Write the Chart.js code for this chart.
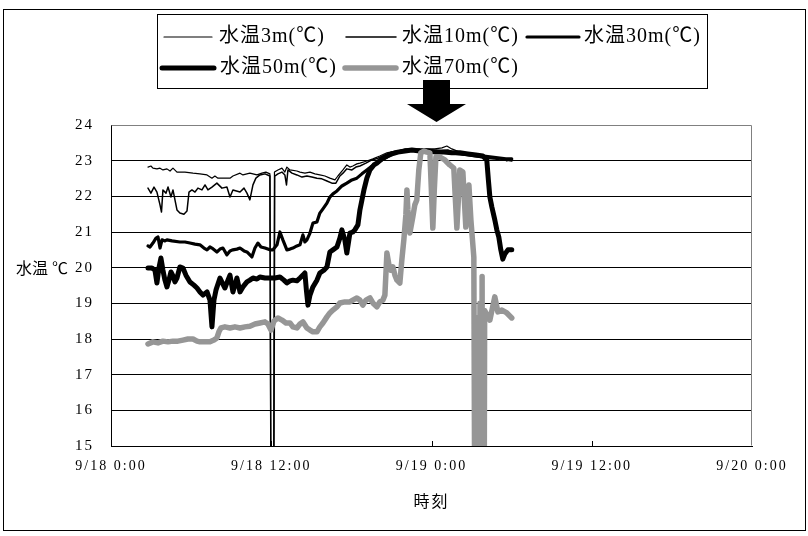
<!DOCTYPE html>
<html><head><meta charset="utf-8">
<script src="https://cdn.jsdelivr.net/npm/chart.js@4/dist/chart.umd.min.js"></script>
<style>html,body{margin:0;padding:0;background:#fff}#wrap{width:808px;height:536px;position:relative}</style>
</head><body><div id="wrap"><canvas id="c"></canvas></div>
<script>
// ---- data (x = hours since 9/18 0:00, y = water temperature ℃) ----
const seriesLabels = ['水温3m(℃)', '水温10m(℃)', '水温30m(℃)', '水温50m(℃)', '水温70m(℃)'];
const xTickLabels = ['9/18 0:00', '9/18 12:00', '9/19 0:00', '9/19 12:00', '9/20 0:00'];
const yAxisTitle = '水温 ℃';
const xAxisTitle = '時刻';

const t3m = [2.77,2.99,3.14,3.44,3.67,3.89,4.19,4.42,4.64,4.94,5.54,6.14,6.66,7.19,7.56,7.78,8.01,8.46,8.91,9.13,9.66,9.88,10.40,10.93,11.30,11.60,11.90,12.07,12.24,12.50,12.80,13.02,13.17,13.40,13.92,14.15,14.52,14.90,15.27,15.64,16.02,16.39,16.77,16.99,17.37,17.66,17.89,18.11,18.41,18.64,19.16,19.61,20.13,20.66,21.26,22.01,22.75,23.50,24.25,24.78,25.15,25.52,26.12,26.72,27.25,27.77,28.37,28.89,29.34,29.64,30.01];
const v3m = [22.82,22.85,22.79,22.77,22.79,22.74,22.77,22.71,22.79,22.68,22.68,22.65,22.63,22.60,22.51,22.57,22.51,22.51,22.51,22.57,22.65,22.60,22.65,22.60,22.65,22.68,22.63,0,22.68,22.74,22.79,22.68,22.82,22.74,22.71,22.68,22.65,22.68,22.63,22.60,22.57,22.51,22.46,22.57,22.74,22.88,22.82,22.85,22.91,22.93,22.99,23.05,23.13,23.22,23.27,23.30,23.30,23.33,23.33,23.36,23.41,23.33,23.24,23.22,23.16,23.13,23.10,23.07,23.05,22.99,23.05];

const t10m = [2.77,2.99,3.22,3.44,3.67,3.78,3.89,4.12,4.27,4.49,4.64,4.79,4.94,5.16,5.46,5.69,5.84,6.06,6.29,6.51,6.81,7.04,7.26,7.56,7.93,8.31,8.68,8.91,9.13,9.66,9.96,10.18,10.40,10.63,10.85,11.15,11.53,11.90,12.10,12.26,12.50,12.80,13.02,13.14,13.25,13.55,13.92,14.30,14.67,15.04,15.42,15.79,16.17,16.54,16.84,17.14,17.37,17.66,18.04,18.34,18.64,19.09,19.54,19.99,20.51,21.03,21.63,22.38,23.13,23.88,24.63,25.22,25.75,26.35,26.87,27.47,28.07,28.67,29.12,29.57,30.01];
const v10m = [22.23,22.09,22.26,22.12,21.76,21.56,22.18,22.09,22.26,21.98,22.18,21.90,21.62,21.53,21.50,21.59,22.12,22.18,22.12,22.23,22.18,22.32,22.18,22.26,22.37,22.23,22.26,21.98,22.18,22.12,22.23,22.09,21.90,22.32,22.51,22.60,22.63,22.57,0,22.57,22.63,22.68,22.60,22.32,22.74,22.65,22.60,22.54,22.57,22.54,22.51,22.49,22.43,22.37,22.37,22.57,22.65,22.77,22.74,22.82,22.85,22.93,23.02,23.07,23.16,23.24,23.27,23.27,23.30,23.30,23.27,23.30,23.22,23.16,23.13,23.10,23.07,23.05,23.02,23.02,22.99];

const t30m = [2.77,2.92,3.14,3.37,3.52,3.67,3.82,4.04,4.19,4.57,5.16,5.54,5.91,6.29,6.66,6.96,7.19,7.41,7.56,7.93,8.16,8.38,8.68,8.91,9.13,9.43,9.66,9.96,10.18,10.55,10.78,11.00,11.23,11.53,11.90,12.13,12.43,12.65,12.87,13.17,13.40,13.62,13.92,14.15,14.37,14.52,14.67,14.90,15.12,15.42,15.64,15.87,16.17,16.39,16.62,16.92,17.29,17.66,18.04,18.41,18.79,19.16,19.54,19.91,20.28,20.66,21.03,21.48,22.01,22.53,23.13,23.73,24.33,24.93,25.52,26.12,26.72,27.32,27.92,28.52,29.12,29.57,30.01];
const v30m = [20.61,20.58,20.69,20.83,20.86,20.55,20.78,20.75,20.78,20.75,20.72,20.72,20.69,20.66,20.64,20.55,20.50,20.58,20.55,20.44,20.52,20.55,20.36,20.47,20.50,20.52,20.55,20.47,20.44,20.30,20.55,20.69,20.58,20.55,20.50,20.50,20.64,21.00,20.78,20.50,20.52,20.55,20.61,20.64,20.92,20.72,20.78,20.97,21.25,21.28,21.53,21.65,21.81,21.98,22.07,22.15,22.29,22.37,22.46,22.51,22.63,22.74,22.85,22.93,23.02,23.10,23.19,23.24,23.30,23.30,23.30,23.27,23.27,23.24,23.22,23.19,23.19,23.16,23.13,23.10,23.07,23.05,23.05];

const t50m = [2.77,3.07,3.29,3.44,3.59,3.74,3.89,4.04,4.19,4.34,4.49,4.64,4.79,4.94,5.16,5.39,5.61,5.91,6.21,6.44,6.66,6.89,7.19,7.41,7.56,7.71,7.86,8.16,8.38,8.53,8.76,8.91,9.13,9.28,9.43,9.66,9.88,10.18,10.40,10.63,10.93,11.15,11.53,11.90,12.28,12.65,12.95,13.17,13.40,13.62,13.92,14.15,14.37,14.52,14.63,14.75,14.90,15.12,15.42,15.64,15.94,16.17,16.39,16.62,16.92,17.14,17.29,17.51,17.66,17.89,18.11,18.26,18.49,18.64,18.79,18.94,19.16,19.39,19.69,19.91,20.28,20.66,21.03,21.48,22.01,22.53,23.13,23.73,24.33,24.93,25.52,26.12,26.72,27.32,27.84,28.14,28.26,28.37,28.52,28.74,28.89,29.04,29.19,29.34,29.49,29.72,30.01];
const v50m = [19.99,19.99,19.93,19.57,19.99,20.27,19.93,19.65,19.46,19.65,19.88,19.77,19.60,19.71,20.02,19.99,19.79,19.60,19.51,19.43,19.32,19.23,19.32,19.09,18.34,19.09,19.37,19.71,19.54,19.43,19.65,19.79,19.32,19.51,19.71,19.32,19.46,19.60,19.65,19.71,19.68,19.74,19.71,19.71,19.71,19.74,19.65,19.57,19.63,19.65,19.63,19.71,19.79,19.85,19.37,18.95,19.23,19.46,19.65,19.85,19.93,20.02,20.44,20.50,20.58,20.83,21.06,20.78,20.41,20.97,21.00,21.06,21.20,21.62,21.90,22.18,22.51,22.74,22.88,22.93,23.05,23.13,23.19,23.24,23.27,23.30,23.27,23.27,23.24,23.24,23.22,23.22,23.19,23.16,23.13,23.02,22.46,21.98,21.70,21.34,21.06,20.86,20.50,20.24,20.38,20.50,20.50];

const t70m = [2.77,3.14,3.52,3.89,4.27,4.64,5.01,5.39,5.76,6.14,6.44,6.66,7.04,7.41,7.71,7.93,8.08,8.23,8.53,8.91,9.28,9.66,10.03,10.40,10.78,11.15,11.53,11.75,11.98,12.20,12.50,12.80,13.10,13.40,13.62,13.92,14.15,14.37,14.67,14.90,15.12,15.42,15.64,15.87,16.17,16.39,16.62,16.92,17.14,17.51,17.89,18.11,18.41,18.64,18.86,19.09,19.39,19.61,19.91,20.13,20.36,20.51,20.66,20.81,20.96,21.11,21.26,21.41,21.63,21.78,21.93,22.08,22.16,22.23,22.38,22.60,22.75,22.90,23.05,23.20,23.43,23.65,23.88,23.99,24.10,24.21,24.33,24.63,25.00,25.37,25.67,25.79,25.90,26.01,26.12,26.35,26.46,26.57,26.68,26.80,26.95,27.17,27.36,27.45,27.54,27.63,27.72,27.79,27.86,27.98,28.37,28.74,28.97,29.27,29.64,30.01];
const v70m = [17.86,17.92,17.89,17.94,17.92,17.94,17.94,17.97,18.00,18.00,17.94,17.92,17.92,17.92,17.97,18.03,18.20,18.31,18.34,18.31,18.34,18.31,18.34,18.36,18.42,18.45,18.48,18.42,18.25,18.50,18.59,18.53,18.45,18.45,18.34,18.31,18.42,18.48,18.31,18.25,18.20,18.20,18.34,18.45,18.62,18.73,18.81,18.90,19.01,19.04,19.04,19.09,19.15,19.09,18.95,19.09,19.15,19.01,18.90,19.04,19.09,19.23,20.41,20.08,19.93,20.02,19.79,19.65,19.57,20.22,20.78,21.48,22.18,21.62,20.97,21.42,21.76,21.90,22.74,23.22,23.27,23.24,23.22,22.18,21.11,22.18,23.10,23.10,23.02,22.88,22.79,21.90,21.11,21.90,22.74,22.68,21.90,21.14,22.04,22.32,21.34,20.30,0,18.6,0,19.0,0,19.75,0,18.8,18.53,19.18,18.76,18.81,18.73,18.59];

// ---- styles ----
const GRAY = '#969696';
const seriesStyles = [
  {color: '#000', width: 1.2, order: 4},
  {color: '#000', width: 1.5, order: 3},
  {color: '#000', width: 3.2, order: 2},
  {color: '#000', width: 5, order: 1},
  {color: GRAY, width: 5.5, order: 0}
];
const seriesTimes = [t3m, t10m, t30m, t50m, t70m];
const seriesValues = [v3m, v10m, v30m, v50m, v70m];

const datasets = seriesLabels.map((label, i) => ({
  label,
  data: seriesTimes[i].map((x, k) => ({x, y: seriesValues[i][k]})),
  borderColor: seriesStyles[i].color,
  backgroundColor: seriesStyles[i].color,
  borderWidth: seriesStyles[i].width,
  order: seriesStyles[i].order,
  pointRadius: 0,
  tension: 0,
  fill: false,
  clip: 0,
  borderJoinStyle: 'round',
  borderCapStyle: 'round'
}));

const TICK_FONT = '"Liberation Serif", "Noto Sans CJK JP"';
const CJK_FONT = '"Liberation Serif", "Noto Sans CJK JP"';

const decor = {
  id: 'decor',
  beforeDraw(chart) { chart.ctx.letterSpacing = '2px'; },
  beforeDatasetsDraw(chart) {
    const ctx = chart.ctx; ctx.letterSpacing = '0px';
    const a = chart.chartArea;
    ctx.save();
    ctx.strokeStyle = '#808080'; ctx.lineWidth = 1;
    ctx.beginPath();
    ctx.moveTo(Math.round(a.left) + 0.5, Math.round(a.top) + 0.5);
    ctx.lineTo(Math.round(a.right) - 0.5, Math.round(a.top) + 0.5);
    ctx.lineTo(Math.round(a.right) - 0.5, Math.round(a.bottom) - 0.5);
    ctx.stroke();
    const xs = chart.scales.x;
    ctx.strokeStyle = '#000';
    xs.ticks.forEach(t => {
      if (t.value <= xs.min || t.value >= xs.max) return;
      const px = Math.round(xs.getPixelForValue(t.value)) + 0.5;
      ctx.beginPath(); ctx.moveTo(px, a.bottom); ctx.lineTo(px, a.bottom - 5); ctx.stroke();
    });
    ctx.restore();
  },
  afterDraw(chart) {
    const ctx = chart.ctx;
    ctx.save();
    ctx.letterSpacing = '0px';
    ctx.strokeStyle = '#000'; ctx.lineWidth = 1;
    ctx.strokeRect(3.5, 9.5, 802, 521);
    ctx.fillStyle = '#000';
    ctx.font = '16px ' + CJK_FONT;
    ctx.textAlign = 'center'; ctx.textBaseline = 'middle';
    ctx.fillText(yAxisTitle, 42, 270);
    ctx.fillStyle = '#fff';
    ctx.fillRect(157.5, 14.5, 550, 74);
    ctx.strokeStyle = '#000';
    ctx.strokeRect(157.5, 14.5, 550, 74);
    const pos = [
      {lx1: 164, lx2: 212, tx: 219, y: 37},
      {lx1: 346, lx2: 396, tx: 402, y: 37},
      {lx1: 527, lx2: 579, tx: 584, y: 37},
      {lx1: 162, lx2: 214, tx: 220, y: 68},
      {lx1: 345, lx2: 396, tx: 402, y: 68}
    ];
    ctx.font = '20px ' + CJK_FONT;
    ctx.textAlign = 'left';
    pos.forEach((p, i) => {
      const ds = chart.data.datasets[i];
      ctx.strokeStyle = ds.borderColor; ctx.lineWidth = ds.borderWidth; ctx.lineCap = 'round';
      ctx.beginPath(); ctx.moveTo(p.lx1, p.y); ctx.lineTo(p.lx2, p.y); ctx.stroke();
      ctx.fillStyle = '#000';
      ctx.letterSpacing = '1px';
      ctx.fillText(ds.label, p.tx, p.y);
      ctx.letterSpacing = '0px';
    });
    ctx.fillStyle = '#000';
    ctx.beginPath();
    ctx.moveTo(423, 80); ctx.lineTo(450, 80); ctx.lineTo(450, 104); ctx.lineTo(466, 104);
    ctx.lineTo(436.5, 122); ctx.lineTo(407, 104); ctx.lineTo(423, 104); ctx.closePath();
    ctx.fill();
    ctx.restore();
  }
};

new Chart(document.getElementById('c'), {
  type: 'line',
  data: {datasets},
  plugins: [decor],
  options: {
    responsive: true,
    maintainAspectRatio: false,
    animation: false,
    events: [],
    layout: {padding: {top: 125, right: 56, left: 0, bottom: 0}},
    plugins: {legend: {display: false}, tooltip: {enabled: false}, title: {display: false}},
    scales: {
      x: {
        type: 'linear', min: 0, max: 48,
        afterFit(s) { s.height = 90; },
        ticks: {stepSize: 12, autoSkip: false, maxRotation: 0, padding: 12, color: '#000',
          font: {family: TICK_FONT, size: 14},
          callback: v => xTickLabels[Math.round(v / 12)]},
        grid: {display: false, drawTicks: false},
        border: {display: true, color: '#000', width: 1},
        title: {display: true, text: xAxisTitle, color: '#000', font: {family: CJK_FONT, size: 16}, padding: {top: 0, bottom: 24}}
      },
      y: {
        min: 15, max: 24,
        afterFit(s) { s.width = 111; },
        ticks: {stepSize: 1, padding: 17, color: '#000', font: {family: TICK_FONT, size: 15}},
        grid: {drawTicks: false, color: c => (c.tick && c.tick.value === 24) ? 'rgba(0,0,0,0)' : '#000', lineWidth: 1},
        border: {display: true, color: '#000', width: 1}
      }
    }
  }
});
</script></body></html>
